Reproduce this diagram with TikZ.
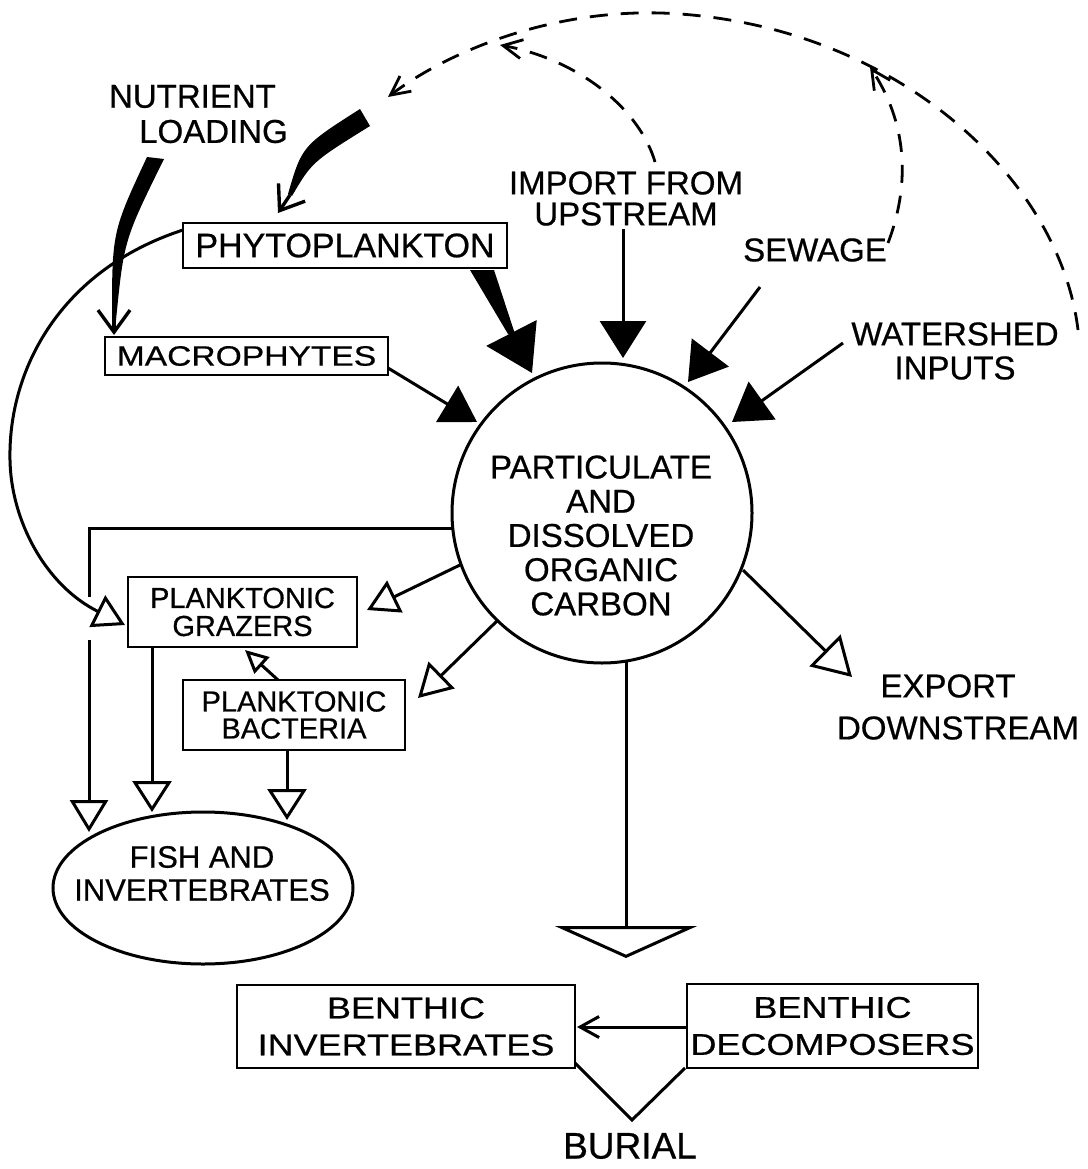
\documentclass[tikz,border=0pt]{standalone}
\usepackage{fontspec}
\setmainfont[FakeBold=0.6]{Liberation Sans}
\newfontfamily\widesans[FakeStretch=1.2,FakeBold=0.6]{Liberation Sans}
\usetikzlibrary{arrows.meta,shapes.geometric}
\begin{document}
\begin{tikzpicture}[x=1pt,y=-1pt,
  ln/.style={line width=3pt},
  dashln/.style={line width=2.8pt,dash pattern=on 18pt off 13pt},
  boxnode/.style={draw,line width=2.8pt,inner sep=0pt,align=center},
  lab/.style={inner sep=0pt,align=center},
  solidhead/.style={ln,-{Triangle[length=37pt,width=46pt]}},
  openhead/.style={ln,-{Triangle[open,length=32pt,width=38pt]}},
  vbarb/.style={line width=3.4pt,-{Straight Barb[length=22pt,width=32pt]}},
  dbarb/.style={-{Straight Barb[length=19pt,width=19pt]}}
]
\fill[white] (0,0) rectangle (1087,1169);
\useasboundingbox (0,0) rectangle (1087,1169);

% ---------------- nodes ----------------
\node[boxnode,minimum width=324pt,minimum height=45pt,font=\fontsize{34}{34}\selectfont] (phyto) at (345,245.5) {PHYTOPLANKTON};
\node[boxnode,minimum width=283pt,minimum height=38pt,font=\widesans\fontsize{28}{28}\selectfont] (macro) at (246.5,356) {MACROPHYTES};
\node[boxnode,minimum width=229pt,minimum height=70pt,font=\fontsize{29}{28}\selectfont] (graz) at (242.5,612) {PLANKTONIC\\GRAZERS};
\node[boxnode,minimum width=222pt,minimum height=70pt,font=\fontsize{29}{27}\selectfont] (bact) at (294,715) {PLANKTONIC\\BACTERIA};
\node[boxnode,minimum width=338pt,minimum height=83pt,font=\widesans\fontsize{30}{37}\selectfont] (binv) at (406,1026.5) {BENTHIC\\INVERTEBRATES};
\node[boxnode,minimum width=291pt,minimum height=84pt,font=\widesans\fontsize{30}{37}\selectfont] (bdec) at (832.5,1026) {BENTHIC\\DECOMPOSERS};

\node[draw,ln,circle,minimum size=300pt,inner sep=0pt] (C) at (602,513) {};
\node[lab,font=\fontsize{33}{34.2}\selectfont] (Ctext) at (601,535.5) {PARTICULATE\\AND\\DISSOLVED\\ORGANIC\\CARBON};

\node[draw,ln,ellipse,minimum width=300pt,minimum height=152pt,inner sep=0pt] (fish) at (203,888) {};
\node[lab,font=\fontsize{31}{33}\selectfont] (fishtext) at (202,873.5) {FISH AND\\INVERTEBRATES};

\node[lab,font=\fontsize{33}{33}\selectfont] (nut1) at (192.5,96.5) {NUTRIENT};
\node[lab,font=\fontsize{33}{33}\selectfont] (nut2) at (213.5,131.5) {LOADING};
\node[lab,font=\fontsize{33}{31}\selectfont] (imp) at (626,198.5) {IMPORT FROM\\UPSTREAM};
\node[lab,font=\fontsize{33}{33}\selectfont] (sew) at (815,250) {SEWAGE};
\node[lab,font=\fontsize{33}{34}\selectfont] (wat) at (955,351) {WATERSHED\\INPUTS};
\node[lab,font=\fontsize{33}{33}\selectfont] (exp1) at (948,686) {EXPORT};
\node[lab,font=\fontsize{33}{33}\selectfont] (exp2) at (958,728) {DOWNSTREAM};
\node[lab,font=\fontsize{37}{37}\selectfont] (bur) at (630,1146) {BURIAL};

% ---------------- coordinates ----------------
\coordinate (nA) at (290,195);
\coordinate (nAt) at (278,213);
\coordinate (nB) at (114,318);
\coordinate (nBt) at (114,335);
\coordinate (pw) at (511.5,333);
\coordinate (pwt) at (532,373);
\coordinate (impS) at (623,229);
\coordinate (impT) at (623,358);
\coordinate (sewS) at (760,287);
\coordinate (sewT) at (688,382);
\coordinate (watS) at (843,343);
\coordinate (watT) at (732,422);
\coordinate (macS) at (388,368);
\coordinate (macT) at (477,422);
\coordinate (cG) at (460,565);
\coordinate (cGt) at (367,610);
\coordinate (cB) at (498,620);
\coordinate (cBt) at (418,698);
\coordinate (cE) at (743,570);
\coordinate (cEt) at (852,677);
\coordinate (cD) at (626,661);
\coordinate (cDt) at (626,958);
\coordinate (cL) at (452.8,528);
\coordinate (lcorner) at (89,528);
\coordinate (lgap1) at (89,597);
\coordinate (lgap2) at (89,640);
\coordinate (lt) at (89,832);
\coordinate (gS) at (152,647);
\coordinate (gt) at (152,812);
\coordinate (bS) at (287,750);
\coordinate (bt) at (287,820);
\coordinate (bG) at (278,680);
\coordinate (bGt) at (245,650);
\coordinate (pC) at (183,230);
\coordinate (pCt) at (125,625);
\coordinate (dS) at (687,1027);
\coordinate (dT) at (577,1027);
\coordinate (burL) at (575,1063);
\coordinate (burT) at (632,1120);
\coordinate (burR) at (685,1068);
\coordinate (arcS) at (1078,330);
\coordinate (arcT) at (388,97);
\coordinate (impD) at (655,162);
\coordinate (impDt) at (500,45);
\coordinate (sewD) at (888,243);
\coordinate (sewDt) at (870,67);

% ---------------- nutrient loading (tapered) ----------------
\fill (360,109) .. controls (302,146) .. (288,194) -- (292,196) .. controls (312,162) .. (370,126) -- cycle;
\draw[vbarb] (nA) -- (nAt);
\fill (147,157) .. controls (112,232) .. (112,320) -- (116,320) .. controls (124,240) .. (164,159) -- cycle;
\draw[vbarb] (nB) -- (nBt);

% ---------------- inputs to carbon pool ----------------
\fill (470,270) -- (494,270) -- (515,334) -- (508,334) -- cycle;
\draw[ln,-{Triangle[length=45pt,width=56pt]}] (pw) -- (pwt);
\draw[solidhead] (impS) -- (impT);
\draw[solidhead] (sewS) -- (sewT);
\draw[solidhead] (watS) -- (watT);
\draw[ln,-{Triangle[length=35pt,width=42pt]}] (macS) -- (macT);

% ---------------- outputs ----------------
\draw[ln,-{Triangle[open,length=31pt,width=35pt]}] (cG) -- (cGt);
\draw[ln,-{Triangle[open,length=33pt,width=37pt]}] (cB) -- (cBt);
\draw[ln,-{Triangle[open,length=38pt,width=44pt]}] (cE) -- (cEt);
\draw[ln,-{Triangle[open,length=32pt,width=142pt]}] (cD) -- (cDt);
\draw[ln] (cL) -- (lcorner) -- (lgap1);
\draw[openhead] (lgap2) -- (lt);
\draw[ln,-{Triangle[open,length=31pt,width=39pt]}] (gS) -- (gt);
\draw[ln,-{Triangle[open,length=31pt,width=39pt]}] (bS) -- (bt);
\draw[ln,-{Triangle[open,length=23pt,width=22pt]}] (bG) -- (bGt);
\draw[ln,-{Triangle[open,length=31pt,width=35pt]}] (pC) .. controls (60,270) and (8,370) .. (10,460) .. controls (11,520) and (45,585) .. (pCt);

% ---------------- benthic ----------------
\draw[ln,-{Straight Barb[length=19pt,width=21pt]}] (dS) -- (dT);
\draw[ln] (burL) -- (burT) -- (burR);

% ---------------- dashed feedbacks ----------------
\draw[dashln,dbarb] (arcS) .. controls (1060,180) and (900,30) .. (680,14) .. controls (560,5) and (450,50) .. (arcT);
\draw[dashln,dbarb] (impD) .. controls (640,110) and (580,60) .. (impDt);
\draw[dashln,dbarb] (sewD) .. controls (912,180) and (905,120) .. (sewDt);
\end{tikzpicture}
\end{document}
